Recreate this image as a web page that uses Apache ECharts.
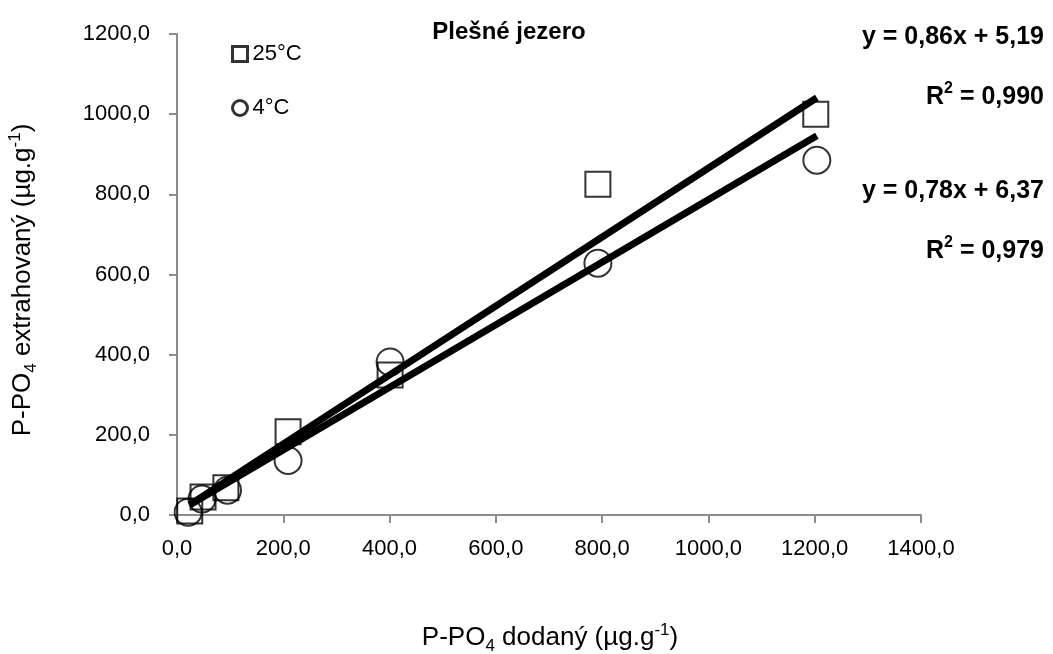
<!DOCTYPE html>
<html><head><meta charset="utf-8">
<script src="https://cdn.jsdelivr.net/npm/echarts@6/dist/echarts.min.js"></script>
<style>html,body{margin:0;padding:0;background:#fff}#c{width:1053px;height:654px}</style>
</head><body><div id="c"></div>
<script>
const title = "Plešné jezero";
const seriesNames = ["25°C", "4°C"];
const xTicks = [0, 200, 400, 600, 800, 1000, 1200, 1400];
const yTicks = [0, 200, 400, 600, 800, 1000, 1200];
const x25 = [24, 49, 92, 209, 401, 792, 1202];
const y25 = [10, 45, 68, 208, 349, 825, 1000];
const x4 = [21, 47, 95, 209, 401, 792, 1204];
const y4 = [7, 40, 62, 136, 382, 628, 885];
const trend25 = [[24, 26], [1204, 1041]];
const trend4 = [[24, 25], [1204, 946]];
const eq25 = ["y = 0,86x + 5,19", "0,990"];
const eq4 = ["y = 0,78x + 6,37", "0,979"];
const xAxisTitle = ["P-PO", "4", " dodaný (µg.g", "-1", ")"];
const yAxisTitle = ["P-PO", "4", " extrahovaný (µg.g", "-1", ")"];

const font = "Liberation Sans, Arial, sans-serif";
const fmt = v => v.toFixed(1).replace('.', ',');
const pts = (xs, ys) => xs.map((x, i) => [x, ys[i]]);
const titleRich = {
  n: {fontSize: 26, fontFamily: font, color: '#000', lineHeight: 33, verticalAlign: 'middle'},
  sub: {fontSize: 17, fontFamily: font, color: '#000', lineHeight: 17, verticalAlign: 'bottom'},
  sup: {fontSize: 17, fontFamily: font, color: '#000', lineHeight: 17, verticalAlign: 'top'}
};
const axTitle = p => `{n|${p[0]}}{sub|${p[1]}}{n|${p[2]}}{sup|${p[3]}}{n|${p[4]}}`;
const eqRich = {
  b: {fontSize: 25, fontWeight: 'bold', fontFamily: font, color: '#000', lineHeight: 32, verticalAlign: 'middle'},
  s: {fontSize: 16, fontWeight: 'bold', fontFamily: font, color: '#000', lineHeight: 16, verticalAlign: 'top'}
};
const rText = v => `{b|R}{s|2}{b| = ${v}}`;

const chart = echarts.init(document.getElementById('c'), null, {renderer: 'canvas'});
chart.setOption({
  backgroundColor: '#fff',
  animation: false,
  textStyle: {fontFamily: font},
  grid: {left: 177, right: 132, top: 34, bottom: 139, containLabel: false},
  xAxis: {
    type: 'value', min: xTicks[0], max: xTicks[xTicks.length - 1], interval: 200,
    axisLine: {show: true, lineStyle: {color: '#8c8c8c', width: 2}},
    axisTick: {show: true, length: 8, lineStyle: {color: '#8c8c8c', width: 2}},
    splitLine: {show: false},
    axisLabel: {formatter: fmt, color: '#000', fontSize: 22, margin: 23, fontFamily: font}
  },
  yAxis: {
    type: 'value', min: yTicks[0], max: yTicks[yTicks.length - 1], interval: 200,
    axisLine: {show: true, lineStyle: {color: '#8c8c8c', width: 2}},
    axisTick: {show: true, length: 8, lineStyle: {color: '#8c8c8c', width: 2}},
    splitLine: {show: false},
    axisLabel: {formatter: fmt, color: '#000', fontSize: 22, margin: 27, fontFamily: font}
  },
  legend: {
    orient: 'vertical', left: 226, top: 38, itemGap: 32, itemWidth: 15, itemHeight: 15,
    textStyle: {fontSize: 22, color: '#000', fontFamily: font},
    data: [
      {name: seriesNames[0], icon: 'rect', itemStyle: {color: '#fff', borderColor: '#000', borderWidth: 3}},
      {name: seriesNames[1], icon: 'circle', itemStyle: {color: '#fff', borderColor: '#000', borderWidth: 3}}
    ]
  },
  graphic: [
    {type: 'text', x: 509, y: 32, style: {text: title, font: 'bold 24px ' + font, fill: '#000', align: 'center', verticalAlign: 'middle'}},
    {type: 'text', x: 1044, y: 37, style: {text: eq25[0], font: 'bold 25px ' + font, fill: '#000', align: 'right', verticalAlign: 'middle'}},
    {type: 'text', x: 1044, y: 97, style: {text: rText(eq25[1]), rich: eqRich, align: 'right', verticalAlign: 'middle'}},
    {type: 'text', x: 1044, y: 191, style: {text: eq4[0], font: 'bold 25px ' + font, fill: '#000', align: 'right', verticalAlign: 'middle'}},
    {type: 'text', x: 1044, y: 251, style: {text: rText(eq4[1]), rich: eqRich, align: 'right', verticalAlign: 'middle'}},
    {type: 'text', x: 550, y: 638, style: {text: axTitle(xAxisTitle), rich: titleRich, align: 'center', verticalAlign: 'middle'}},
    {type: 'text', x: 23, y: 280, rotation: Math.PI / 2, style: {text: axTitle(yAxisTitle), rich: titleRich, align: 'center', verticalAlign: 'middle'}}
  ],
  series: [
    {name: 'trend25', type: 'line', data: trend25, symbol: 'none', lineStyle: {color: '#000', width: 7}, silent: true, z: 3},
    {name: 'trend4', type: 'line', data: trend4, symbol: 'none', lineStyle: {color: '#000', width: 7}, silent: true, z: 3},
    {name: seriesNames[0], type: 'scatter', data: pts(x25, y25), symbol: 'rect', symbolSize: 25,
      itemStyle: {color: 'rgba(255,255,255,0)', borderColor: '#000', borderWidth: 2}, z: 4},
    {name: seriesNames[1], type: 'scatter', data: pts(x4, y4), symbol: 'circle', symbolSize: 27,
      itemStyle: {color: 'rgba(255,255,255,0)', borderColor: '#000', borderWidth: 2}, z: 4}
  ]
});
</script></body></html>
